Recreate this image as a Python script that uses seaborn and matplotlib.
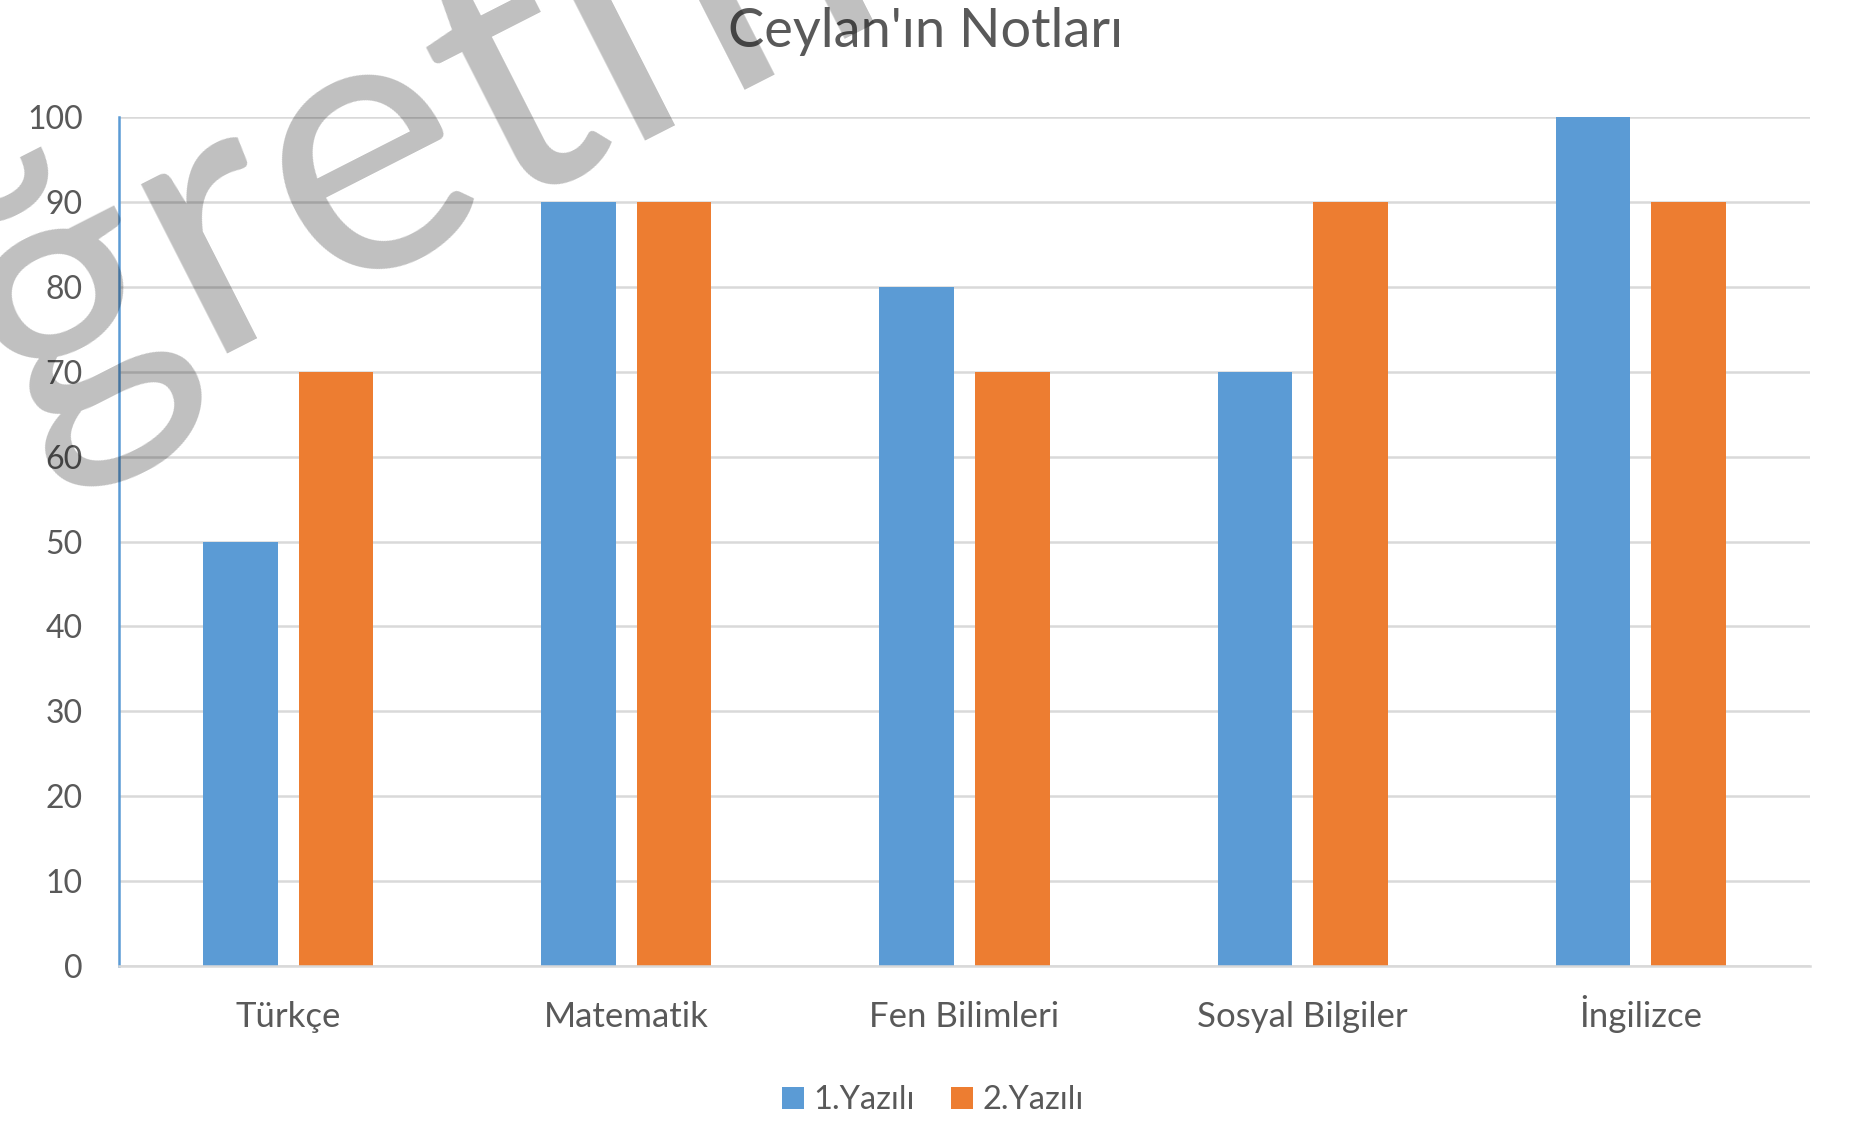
import matplotlib
matplotlib.use("Agg")
import matplotlib.pyplot as plt
import seaborn as sns
import pandas as pd

# ---- data ----
categories = ["Türkçe", "Matematik", "Fen Bilimleri", "Sosyal Bilgiler", "İngilizce"]
yazili_1 = [50, 90, 80, 70, 100]
yazili_2 = [70, 90, 70, 90, 90]
series_names = ["1.Yazılı", "2.Yazılı"]
y_ticks = [0, 10, 20, 30, 40, 50, 60, 70, 80, 90, 100]
title_text = "Ceylan'ın Notları"
watermark_text = "ğretmen"

df = pd.DataFrame({
    "Ders": categories * 2,
    "Not": yazili_1 + yazili_2,
    "Sınav": [series_names[0]] * len(categories) + [series_names[1]] * len(categories),
})

sns.set_theme(style="white")
plt.rcParams["font.family"] = ["Lato", "DejaVu Sans"]

W, H = 1852, 1121
fig = plt.figure(figsize=(W / 100, H / 100), dpi=100)
ax = fig.add_axes([119 / W, 1 - 966 / H, (1810 - 119) / W, (966 - 117) / H])

sns.barplot(data=df, x="Ders", y="Not", hue="Sınav", order=categories,
            hue_order=series_names, palette=["#5B9BD5", "#ED7D31"],
            width=0.566, gap=0.22, saturation=1, errorbar=None,
            linewidth=0, ax=ax)

ax.set_xlim(-0.5, len(categories) - 0.5)
ax.set_ylim(0, 100)
ax.set_yticks(y_ticks)
ax.set_xlabel("")
ax.set_ylabel("")
ax.yaxis.grid(True, color="#D9D9D9", linewidth=1.8)
ax.set_axisbelow(True)
for s in ["top", "right"]:
    ax.spines[s].set_visible(False)
ax.spines["left"].set_color("#5B9BD5")
ax.spines["left"].set_linewidth(1.8)
ax.spines["bottom"].set_color("#D9D9D9")
ax.spines["bottom"].set_linewidth(1.8)
ax.tick_params(axis="y", length=0, pad=26, labelsize=23, labelcolor="#595959")
ax.tick_params(axis="x", length=0, pad=44, labelsize=25, labelcolor="#595959")
for lbl in ax.get_xticklabels():
    lbl.set_verticalalignment("baseline")

handles, labels = ax.get_legend_handles_labels()
ax.legend(handles, labels, loc="center", bbox_to_anchor=(933 / W, 1 - 1100 / H),
          bbox_transform=fig.transFigure, ncol=2, frameon=False,
          fontsize=23.5, labelcolor="#595959", handlelength=0.66, handleheight=0.66,
          handletextpad=0.3, columnspacing=1.1, borderpad=0)

fig.text(926 / W, 1 - 31 / H, title_text, ha="center", va="center",
         fontsize=39, color="#595959")

fig.text(30 / W, 1 - 448 / H, watermark_text, ha="left", va="baseline",
         rotation=27, rotation_mode="anchor", fontsize=270,
         family=["Lato", "DejaVu Sans"], fontweight=400,
         color="black", alpha=0.25, zorder=10)

fig.savefig("out.png", dpi=100, facecolor="white")
